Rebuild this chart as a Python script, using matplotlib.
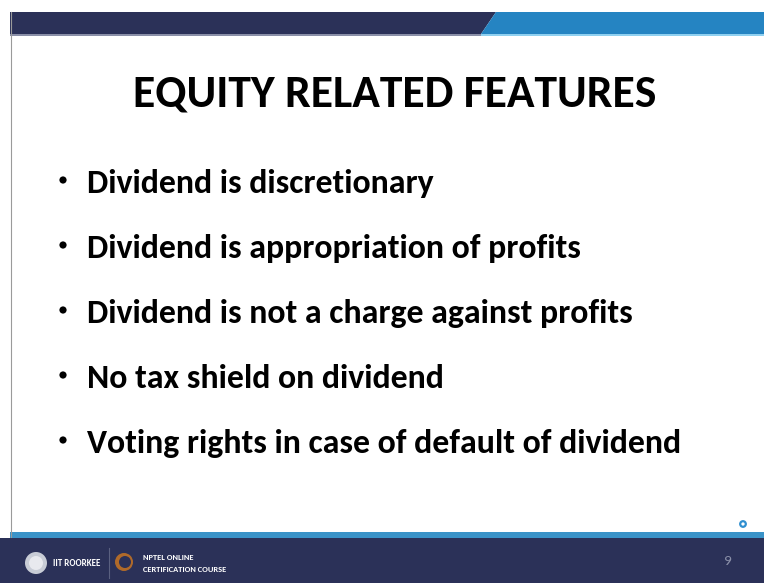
import matplotlib
matplotlib.use("Agg")
import matplotlib.pyplot as plt
from matplotlib.patches import Rectangle, Polygon, Circle
from matplotlib import font_manager

title = "EQUITY RELATED FEATURES"
bullets = [
    "Dividend is discretionary",
    "Dividend is appropriation of profits",
    "Dividend is not a charge against profits",
    "No tax shield on dividend",
    "Voting rights in case of default of dividend",
]
footer_left = "IIT ROORKEE"
footer_mid = ["NPTEL ONLINE", "CERTIFICATION COURSE"]
page_number = "9"

W, H = 764, 583
names = {f.name for f in font_manager.fontManager.ttflist}
FONT = "DejaVu Sans"
for cand in ["Carlito", "Open Sans Condensed", "IBM Plex Sans Condensed"]:
    if cand in names:
        FONT = cand
        break

fig = plt.figure(figsize=(W / 100, H / 100), dpi=100)
ax = fig.add_axes([0, 0, 1, 1])
ax.set_xlim(0, W)
ax.set_ylim(H, 0)
ax.axis("off")

NAVY = "#2b3158"
BLUE = "#2584c2"

# top bar
ax.add_patch(Polygon([[10, 12], [496, 12], [481, 34], [10, 34]], closed=True, color=NAVY, lw=0))
ax.add_patch(Polygon([[496, 12], [W, 12], [W, 34], [481, 34]], closed=True, color=BLUE, lw=0))
ax.add_patch(Rectangle((10, 34), 471, 1.5, color="#8a8fa8", lw=0))
ax.add_patch(Rectangle((481, 34), W - 481, 1.5, color="#8fd0f0", lw=0))
ax.plot([10.5, 10.5], [12, 537], color="#9a9a9a", lw=0.8)

# bottom bar
ax.add_patch(Rectangle((10, 532), W - 10, 6, color="#3a93c8", lw=0))
ax.add_patch(Rectangle((0, 537.5), W, H - 537.5, color=NAVY, lw=0))

fig.canvas.draw()
renderer = fig.canvas.get_renderer()


def size_for(s, target_w, **kw):
    t = ax.text(0, 0, s, fontsize=20, **kw)
    bb = t.get_window_extent(renderer)
    t.remove()
    return 20 * target_w / bb.width


tsize = size_for(title, 525, family=FONT, fontweight="bold")
ax.text(394.5, 107, title, fontsize=tsize, family=FONT, fontweight="bold",
        ha="center", va="baseline", color="black")

baselines = [193, 258, 323, 388, 453]
bsize = size_for(bullets[2], 634 - 87, family=FONT, fontweight="bold")
for s, y in zip(bullets, baselines):
    ax.text(87, y, s, fontsize=bsize, family=FONT, fontweight="bold",
            ha="left", va="baseline", color="black")
    ax.add_patch(Circle((63, y - 13), 3.6, color="black", lw=0))

ax.add_patch(Circle((743, 524), 2.8, fill=False, ec="#2f8fd0", lw=1.6))
ax.text(727, 561, page_number, fontsize=11, color="#8a8fa8", ha="center", va="center", family=FONT)

ax.add_patch(Circle((36, 563), 11, color="#c8ccd6", lw=0))
ax.add_patch(Circle((36, 563), 7, color="#e8e9ee", lw=0))
ax.text(53, 563, footer_left, fontsize=6.5, color="white", fontweight="bold", va="center", family=FONT)
ax.plot([108.5, 108.5], [548, 578], color="#5a6080", lw=0.8)
ax.add_patch(Circle((124, 562), 9, color="#b06a2a", lw=0))
ax.add_patch(Circle((125, 562), 6, color=NAVY, lw=0))
ax.text(143, 557, footer_mid[0], fontsize=6, color="white", fontweight="bold", va="center", family=FONT)
ax.text(143, 569, footer_mid[1], fontsize=6, color="white", fontweight="bold", va="center", family=FONT)

fig.savefig("out.png", dpi=100, facecolor="white")
